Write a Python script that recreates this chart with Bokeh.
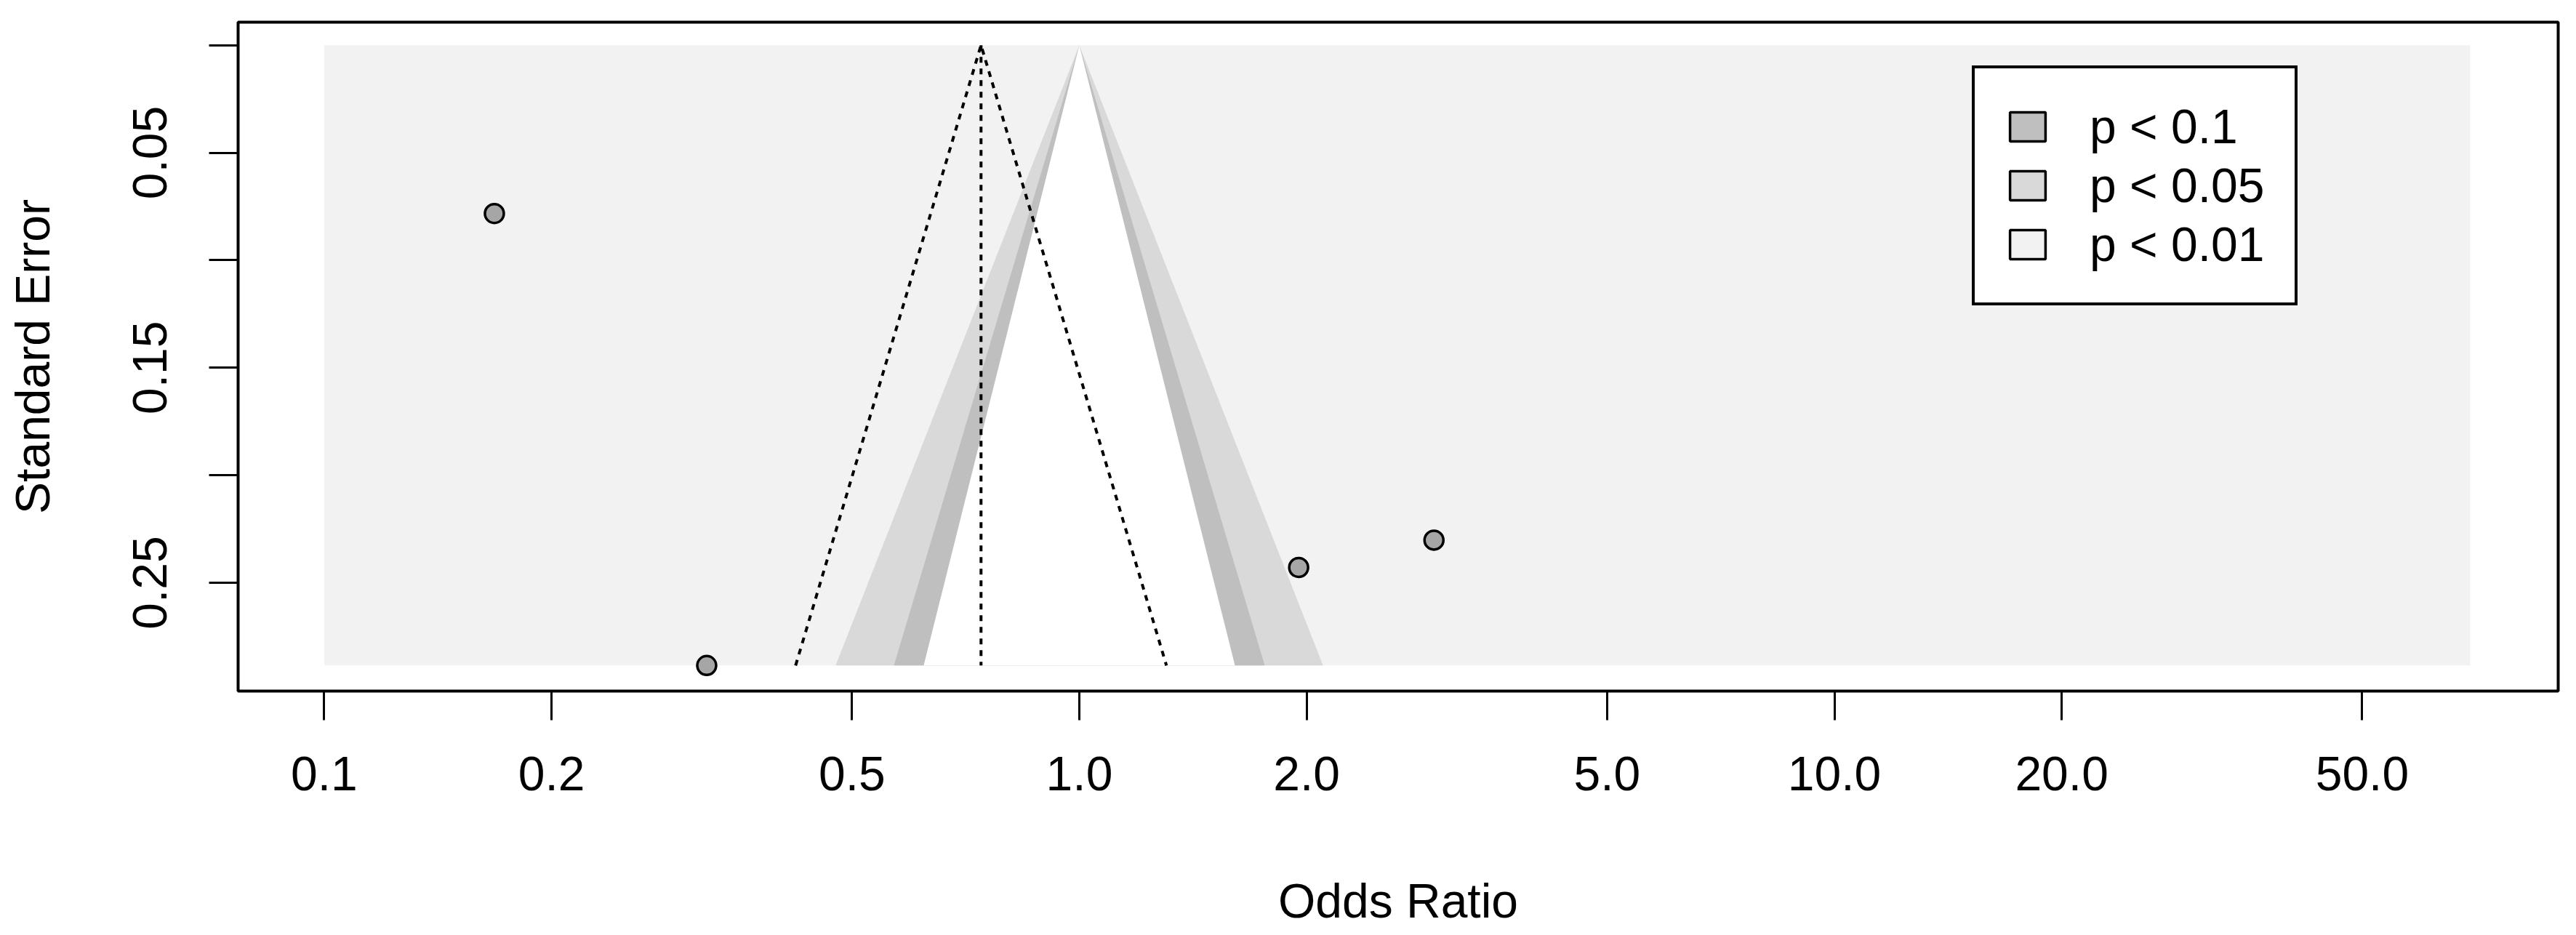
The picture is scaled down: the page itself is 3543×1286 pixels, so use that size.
import numpy as np
from bokeh.plotting import figure
from bokeh.models import Range1d, FixedTicker, NumeralTickFormatter, Legend, LegendItem
from bokeh.embed import file_html
from bokeh.resources import INLINE

# ---- data ----
odds_ratio = [0.168, 0.321, 1.952, 2.949]
std_error = [0.0783, 0.2885, 0.2429, 0.2302]
pooled_or = 0.741            # pooled estimate (dotted pseudo-CI centre)
ref_or = 1.0                 # contour reference value
contour_labels = ["p < 0.1", "p < 0.05", "p < 0.01"]
contour_z = [1.645, 1.960, 2.576]
contour_colors = ["#BFBFBF", "#D9D9D9", "#F2F2F2"]
region_or = [0.1, 69.5]      # x extent of the shaded region
x_ticks = [0.1, 0.2, 0.5, 1.0, 2.0, 5.0, 10.0, 20.0, 50.0]
y_ticks_labelled = [0.05, 0.15, 0.25]
y_ticks_unlabelled = [0.0, 0.10, 0.20]
x_limits = [0.0769, 90.9]
y_limits = [0.3004, -0.0107]

FONT = "Liberation Sans"
FS = "66px"

se_max = max(std_error)

p = figure(
    x_axis_type="log",
    x_range=Range1d(*x_limits),
    y_range=Range1d(*y_limits),
    frame_width=3191, frame_height=920,
    width=3527, height=1270,
    min_border_left=327, min_border_right=9,
    min_border_top=30, min_border_bottom=320,
    output_backend="svg", toolbar_location=None,
)
p.grid.visible = False
p.background_fill_color = "white"
p.border_fill_color = "white"
p.outline_line_color = "black"
p.outline_line_alpha = 1.0
p.outline_line_width = 4

# shaded region (p < 0.01 zone)
p.quad(left=[region_or[0]], right=[region_or[1]], top=[0.0], bottom=[se_max],
       fill_color=contour_colors[2], line_color=None)

# contour triangles, widest first
tri_fill = {2: contour_colors[1], 1: contour_colors[0], 0: "white"}
for i in [2, 1, 0]:
    z = contour_z[i]
    xs = [np.exp(np.log(ref_or) - z * se_max), ref_or, np.exp(np.log(ref_or) + z * se_max)]
    ys = [se_max, 0.0, se_max]
    p.patch(xs, ys, fill_color=tri_fill[i], line_color=None)

# pseudo confidence region around pooled estimate
lo = np.exp(np.log(pooled_or) - 1.96 * se_max)
hi = np.exp(np.log(pooled_or) + 1.96 * se_max)
p.line([pooled_or, pooled_or], [0.0, se_max], line_color="black", line_width=4, line_dash="8 8")
p.line([lo, pooled_or, hi], [se_max, 0.0, se_max], line_color="black", line_width=4, line_dash="8 8")

# studies
p.scatter(odds_ratio, std_error, size=26, fill_color="#A6A6A6", line_color="black", line_width=3.5)

# axes
xa = p.xaxis[0]
xa.ticker = FixedTicker(ticks=x_ticks)
xa.formatter = NumeralTickFormatter(format="0.0")
ya = p.yaxis[0]
ya.ticker = FixedTicker(ticks=y_ticks_labelled, minor_ticks=y_ticks_unlabelled)
ya.major_label_orientation = "vertical"
for ax in (xa, ya):
    ax.axis_line_color = None
    ax.major_tick_in = 0
    ax.major_tick_out = 40
    ax.major_tick_line_width = 3
    ax.major_tick_line_color = "black"
    ax.major_label_text_font = FONT
    ax.major_label_text_font_size = FS
    ax.major_label_text_color = "black"
    ax.axis_label_text_font = FONT
    ax.axis_label_text_font_size = FS
    ax.axis_label_text_font_style = "normal"
    ax.axis_label_text_color = "black"
ya.minor_tick_in = 0
ya.minor_tick_out = 40
ya.minor_tick_line_width = 3
ya.minor_tick_line_color = "black"
xa.minor_tick_line_color = None
xa.axis_label = "Odds Ratio"
ya.axis_label = "Standard Error"
xa.major_label_standoff = 50
ya.major_label_standoff = 58
xa.axis_label_standoff = 112
ya.axis_label_standoff = 99

# legend swatches (NaN-positioned quads so only the legend glyph shows)
items = []
for lab, col in zip(contour_labels, contour_colors):
    r = p.quad(left=[np.nan], right=[np.nan], top=[np.nan], bottom=[np.nan], fill_color=col,
               line_color="black", line_width=3.5)
    items.append(LegendItem(label=lab, renderers=[r]))
legend = Legend(items=items, location=(2385, 530), margin=0,
                glyph_width=61, glyph_height=50, label_standoff=55,
                spacing=5, padding=42,
                label_text_font=FONT, label_text_font_size=FS, label_text_color="black",
                border_line_color="black", border_line_width=4, border_line_alpha=1.0,
                background_fill_color="white", background_fill_alpha=1.0)
p.add_layout(legend, "center")

open("out.html", "w").write(file_html(p, INLINE))
